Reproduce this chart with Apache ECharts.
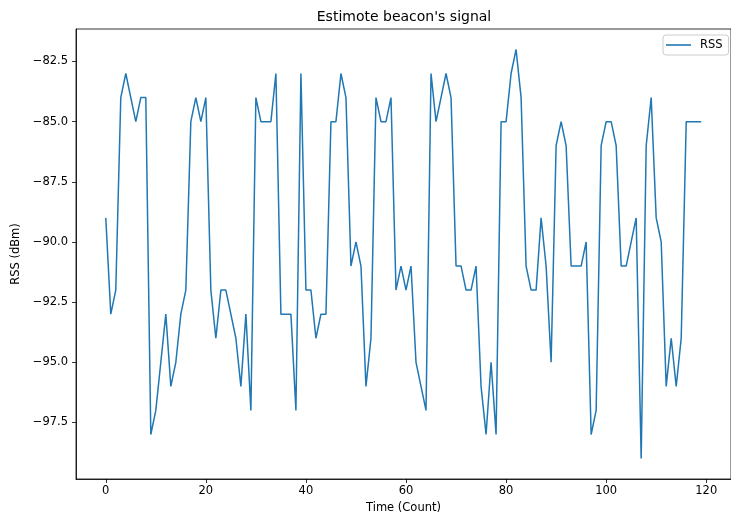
<!DOCTYPE html>
<html>
<head>
<meta charset="utf-8">
<script src="https://cdn.jsdelivr.net/npm/echarts@6/dist/echarts.min.js"></script>
<style>
  html, body { margin: 0; padding: 0; background: #fff; }
  #chart { width: 731px; height: 529px; }
</style>
</head>
<body>
<div id="chart"></div>
<script>
// RSS readings, one per count
var counts = [];
for (var i = 0; i < 120; i++) counts.push(i);
var rss = [
  -89, -93, -92, -84, -83, -84, -85, -84, -84, -98,
  -97, -95, -93, -96, -95, -93, -92, -85, -84, -85,
  -84, -92, -94, -92, -92, -93, -94, -96, -93, -97,
  -84, -85, -85, -85, -83, -93, -93, -93, -97, -83,
  -92, -92, -94, -93, -93, -85, -85, -83, -84, -91,
  -90, -91, -96, -94, -84, -85, -85, -84, -92, -91,
  -92, -91, -95, -96, -97, -83, -85, -84, -83, -84,
  -91, -91, -92, -92, -91, -96, -98, -95, -98, -85,
  -85, -83, -82, -84, -91, -92, -92, -89, -91, -95,
  -86, -85, -86, -91, -91, -91, -90, -98, -97, -86,
  -85, -85, -86, -91, -91, -90, -89, -99, -86, -84,
  -89, -90, -96, -94, -96, -94, -85, -85, -85, -85
];
var xTicks = [0, 20, 40, 60, 80, 100, 120];
var yTicks = [-97.5, -95, -92.5, -90, -87.5, -85, -82.5];

var font = 'DejaVu Sans';
var myChart = echarts.init(document.getElementById('chart'));

var seriesData = counts.map(function (c, k) { return [c, rss[k]]; });

option = {
    animation: false,
    backgroundColor: '#fff',
    textStyle: { fontFamily: font },
    title: {
        text: "Estimote beacon's signal",
        left: 404,
        top: 10,
        padding: 0,
        textAlign: 'center',
        textStyle: { fontFamily: font, fontSize: 14, fontWeight: 'normal', color: '#000' }
    },
    legend: {
        data: [{ name: 'RSS', icon: 'rect' }],
        left: 663,
        top: 35,
        padding: [4, 6, 4, 3],
        borderColor: '#ccc',
        borderWidth: 1,
        borderRadius: 3,
        itemWidth: 25,
        itemHeight: 1.6,
        textStyle: { fontFamily: font, fontSize: 11.5, color: '#000', padding: [0, 0, 0, 4] }
    },
    grid: {
        left: 76,
        top: 29,
        width: 656,
        height: 450,
        show: true,
        borderColor: '#000',
        borderWidth: 0.8
    },
    xAxis: {
        type: 'value',
        min: -5.95,
        max: 124.95,
        name: 'Time (Count)',
        nameLocation: 'middle',
        nameGap: 22,
        nameTextStyle: { fontFamily: font, fontSize: 11.5, color: '#000' },
        axisLine: { show: true, onZero: false, lineStyle: { color: '#000', width: 0.8 } },
        axisTick: { show: true, length: 4, lineStyle: { color: '#000', width: 0.8 }, customValues: xTicks },
        axisLabel: { fontFamily: font, fontSize: 11.5, color: '#000', margin: 6, customValues: xTicks },
        splitLine: { show: false }
    },
    yAxis: {
        type: 'value',
        min: -99.85,
        max: -81.15,
        name: 'RSS (dBm)',
        nameLocation: 'middle',
        nameGap: 47,
        nameTextStyle: { fontFamily: font, fontSize: 11.5, color: '#000' },
        axisLine: { show: true, onZero: false, lineStyle: { color: '#000', width: 0.8 } },
        axisTick: { show: true, length: 4, lineStyle: { color: '#000', width: 0.8 }, customValues: yTicks },
        axisLabel: {
            fontFamily: font, fontSize: 11.5, color: '#000', margin: 8,
            customValues: yTicks,
            formatter: function (v) { return v.toFixed(1).replace('-', '\u2212'); }
        },
        splitLine: { show: false }
    },
    series: [
        {
            name: 'RSS',
            type: 'line',
            data: seriesData,
            symbol: 'none',
            lineStyle: { color: '#1f77b4', width: 1.5 },
            itemStyle: { color: '#1f77b4' }
        }
    ]
};

myChart.setOption(option);
</script>
</body>
</html>
